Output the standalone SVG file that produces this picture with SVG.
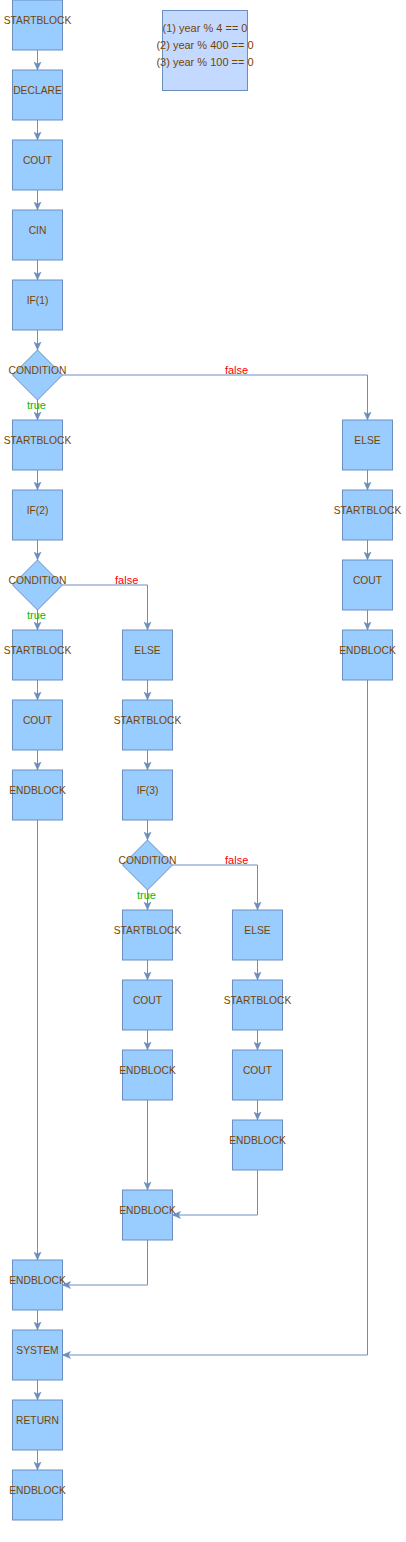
<svg xmlns="http://www.w3.org/2000/svg" width="406" height="1542" viewBox="0 0 406 1542">
<style>
.n{fill:#99CCFF;stroke:#6C8EBF;stroke-width:1}
.note{fill:#C3D9FF;stroke:#6C8EBF;stroke-width:1}
.t{font-family:"Liberation Sans",Arial,sans-serif;font-size:10.3px;fill:#774400;text-anchor:middle}
.nt{font-family:"Liberation Sans",Arial,sans-serif;font-size:11px;fill:#774400;text-anchor:middle}
.e{fill:none;stroke:#6C8EBF;stroke-width:1;marker-end:url(#a)}
.f{font-family:"Liberation Sans",Arial,sans-serif;font-size:11px;fill:#FF0000;text-anchor:middle}
.tr{font-family:"Liberation Sans",Arial,sans-serif;font-size:11px;fill:#00BB00;text-anchor:middle}
</style>
<defs>
<marker id="a" viewBox="0 0 8 8" refX="8" refY="4" markerWidth="8" markerHeight="8" markerUnits="userSpaceOnUse" orient="auto">
<path d="M0,0.5 L8,4 L0,7.5 L2,4 Z" fill="#6C8EBF" stroke="#6C8EBF" stroke-width="0.5"/>
</marker>
</defs>
<rect width="406" height="1542" fill="#FFFFFF"/>
<g id="connectors">
<path class="e" d="M37.5,50V70"/>
<path class="e" d="M37.5,120V140"/>
<path class="e" d="M37.5,190V210"/>
<path class="e" d="M37.5,260V280"/>
<path class="e" d="M37.5,330V350"/>
<path class="e" d="M37.5,400V420"/>
<path class="e" d="M37.5,470V490"/>
<path class="e" d="M37.5,540V560"/>
<path class="e" d="M37.5,610V630"/>
<path class="e" d="M37.5,680V700"/>
<path class="e" d="M37.5,750V770"/>
<path class="e" d="M37.5,820V1260"/>
<path class="e" d="M37.5,1310V1330"/>
<path class="e" d="M37.5,1380V1400"/>
<path class="e" d="M37.5,1450V1470"/>
<path class="e" d="M147.5,680V700"/>
<path class="e" d="M147.5,750V770"/>
<path class="e" d="M147.5,820V840"/>
<path class="e" d="M147.5,890V910"/>
<path class="e" d="M147.5,960V980"/>
<path class="e" d="M147.5,1030V1050"/>
<path class="e" d="M147.5,1100V1190"/>
<path class="e" d="M257.5,960V980"/>
<path class="e" d="M257.5,1030V1050"/>
<path class="e" d="M257.5,1100V1120"/>
<path class="e" d="M367.5,470V490"/>
<path class="e" d="M367.5,540V560"/>
<path class="e" d="M367.5,610V630"/>
<path class="e" d="M62.5,375H367.5V420"/>
<path class="e" d="M62.5,585H147.5V630"/>
<path class="e" d="M172.5,865H257.5V910"/>
<path class="e" d="M257.5,1170V1215H172.5"/>
<path class="e" d="M147.5,1240V1285H62.5"/>
<path class="e" d="M367.5,680V1355H62.5"/>
<text class="f" x="236.5" y="373.5">false</text>
<text class="tr" x="36.5" y="409">true</text>
<text class="f" x="126.7" y="583.5">false</text>
<text class="tr" x="36.5" y="619">true</text>
<text class="f" x="236.7" y="863.5">false</text>
<text class="tr" x="146.5" y="899">true</text>
</g>
<g id="note"><rect class="note" x="162.5" y="10.5" width="85" height="80"/><text class="nt" x="205" y="31.5">(1) year % 4 == 0</text><text class="nt" x="205" y="48.5">(2) year % 400 == 0</text><text class="nt" x="205" y="65.5">(3) year % 100 == 0</text></g>
<g id="n1"><rect class="n" x="12.5" y="0" width="50" height="50"/><text class="t" x="37.5" y="24">STARTBLOCK</text></g>
<g id="n2"><rect class="n" x="12.5" y="70" width="50" height="50"/><text class="t" x="37.5" y="94">DECLARE</text></g>
<g id="n3"><rect class="n" x="12.5" y="140" width="50" height="50"/><text class="t" x="37.5" y="164">COUT</text></g>
<g id="n4"><rect class="n" x="12.5" y="210" width="50" height="50"/><text class="t" x="37.5" y="234">CIN</text></g>
<g id="n5"><rect class="n" x="12.5" y="280" width="50" height="50"/><text class="t" x="37.5" y="304">IF(1)</text></g>
<g id="n6"><polygon class="n" points="37.5,350 62.5,375 37.5,400 12.5,375"/><text class="t" x="37.5" y="374">CONDITION</text></g>
<g id="n7"><rect class="n" x="12.5" y="420" width="50" height="50"/><text class="t" x="37.5" y="444">STARTBLOCK</text></g>
<g id="n8"><rect class="n" x="12.5" y="490" width="50" height="50"/><text class="t" x="37.5" y="514">IF(2)</text></g>
<g id="n9"><polygon class="n" points="37.5,560 62.5,585 37.5,610 12.5,585"/><text class="t" x="37.5" y="584">CONDITION</text></g>
<g id="n10"><rect class="n" x="12.5" y="630" width="50" height="50"/><text class="t" x="37.5" y="654">STARTBLOCK</text></g>
<g id="n11"><rect class="n" x="12.5" y="700" width="50" height="50"/><text class="t" x="37.5" y="724">COUT</text></g>
<g id="n12"><rect class="n" x="12.5" y="770" width="50" height="50"/><text class="t" x="37.5" y="794">ENDBLOCK</text></g>
<g id="n13"><rect class="n" x="12.5" y="1260" width="50" height="50"/><text class="t" x="37.5" y="1284">ENDBLOCK</text></g>
<g id="n14"><rect class="n" x="12.5" y="1330" width="50" height="50"/><text class="t" x="37.5" y="1354">SYSTEM</text></g>
<g id="n15"><rect class="n" x="12.5" y="1400" width="50" height="50"/><text class="t" x="37.5" y="1424">RETURN</text></g>
<g id="n16"><rect class="n" x="12.5" y="1470" width="50" height="50"/><text class="t" x="37.5" y="1494">ENDBLOCK</text></g>
<g id="n17"><rect class="n" x="342.5" y="420" width="50" height="50"/><text class="t" x="367.5" y="444">ELSE</text></g>
<g id="n18"><rect class="n" x="342.5" y="490" width="50" height="50"/><text class="t" x="367.5" y="514">STARTBLOCK</text></g>
<g id="n19"><rect class="n" x="342.5" y="560" width="50" height="50"/><text class="t" x="367.5" y="584">COUT</text></g>
<g id="n20"><rect class="n" x="342.5" y="630" width="50" height="50"/><text class="t" x="367.5" y="654">ENDBLOCK</text></g>
<g id="n21"><rect class="n" x="122.5" y="630" width="50" height="50"/><text class="t" x="147.5" y="654">ELSE</text></g>
<g id="n22"><rect class="n" x="122.5" y="700" width="50" height="50"/><text class="t" x="147.5" y="724">STARTBLOCK</text></g>
<g id="n23"><rect class="n" x="122.5" y="770" width="50" height="50"/><text class="t" x="147.5" y="794">IF(3)</text></g>
<g id="n24"><polygon class="n" points="147.5,840 172.5,865 147.5,890 122.5,865"/><text class="t" x="147.5" y="864">CONDITION</text></g>
<g id="n25"><rect class="n" x="122.5" y="910" width="50" height="50"/><text class="t" x="147.5" y="934">STARTBLOCK</text></g>
<g id="n26"><rect class="n" x="122.5" y="980" width="50" height="50"/><text class="t" x="147.5" y="1004">COUT</text></g>
<g id="n27"><rect class="n" x="122.5" y="1050" width="50" height="50"/><text class="t" x="147.5" y="1074">ENDBLOCK</text></g>
<g id="n28"><rect class="n" x="122.5" y="1190" width="50" height="50"/><text class="t" x="147.5" y="1214">ENDBLOCK</text></g>
<g id="n29"><rect class="n" x="232.5" y="910" width="50" height="50"/><text class="t" x="257.5" y="934">ELSE</text></g>
<g id="n30"><rect class="n" x="232.5" y="980" width="50" height="50"/><text class="t" x="257.5" y="1004">STARTBLOCK</text></g>
<g id="n31"><rect class="n" x="232.5" y="1050" width="50" height="50"/><text class="t" x="257.5" y="1074">COUT</text></g>
<g id="n32"><rect class="n" x="232.5" y="1120" width="50" height="50"/><text class="t" x="257.5" y="1144">ENDBLOCK</text></g>
</svg>
